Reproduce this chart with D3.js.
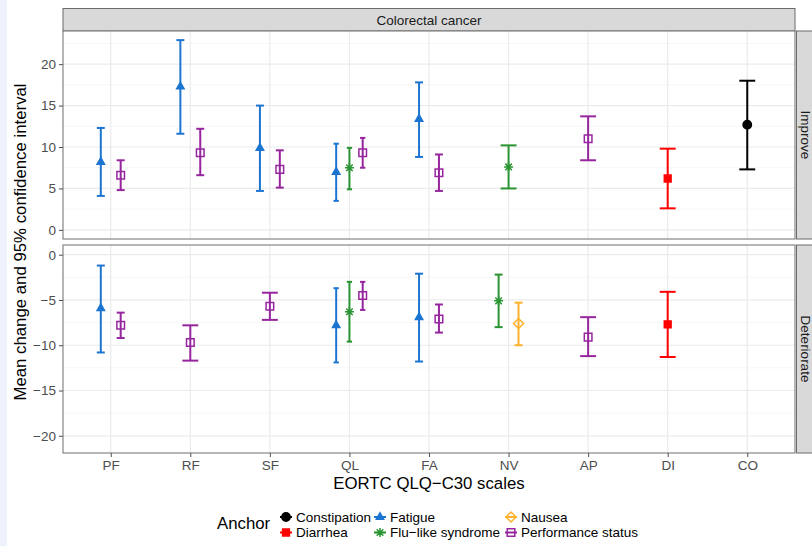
<!DOCTYPE html>
<html>
<head>
<meta charset="utf-8">
<script src="https://cdn.jsdelivr.net/npm/d3@7"></script>
<style>
  body { margin: 0; background: #fff; }
  text { font-family: "Liberation Sans", Arial, Helvetica, sans-serif; }
</style>
</head>
<body>
<svg id="chart"></svg>
<script>
// categories
const qlqScales = ['PF', 'RF', 'SF', 'QL', 'FA', 'NV', 'AP', 'DI', 'CO'];
const anchors = ['Constipation', 'Diarrhea', 'Fatigue', 'Flu\u2212like syndrome', 'Nausea', 'Performance status'];
const panels = ['Improve', 'Deteriorate'];

// Improve panel
const impScale  = ['PF', 'PF', 'RF', 'RF', 'SF', 'SF', 'QL', 'QL', 'QL', 'FA', 'FA', 'NV', 'AP', 'DI', 'CO'];
const impAnchor = [2, 5, 2, 5, 2, 5, 2, 3, 5, 2, 5, 3, 5, 1, 0];
const impMean   = [8.2, 6.6, 17.3, 9.3, 9.9, 7.3, 7.0, 7.5, 9.3, 13.4, 6.9, 7.6, 11.0, 6.2, 12.7];
const impLow    = [4.1, 4.8, 11.6, 6.6, 4.7, 5.1, 3.5, 4.9, 7.5, 8.8, 4.7, 5.0, 8.4, 2.6, 7.3];
const impHigh   = [12.3, 8.4, 22.9, 12.2, 15.0, 9.6, 10.4, 9.9, 11.1, 17.8, 9.1, 10.2, 13.7, 9.8, 18.0];

// Deteriorate panel
const detScale  = ['PF', 'PF', 'RF', 'SF', 'QL', 'QL', 'QL', 'FA', 'FA', 'NV', 'NV', 'AP', 'DI'];
const detAnchor = [2, 5, 5, 5, 2, 3, 5, 2, 5, 3, 4, 5, 1];
const detMean   = [-5.9, -7.8, -9.7, -5.7, -7.8, -6.3, -4.5, -6.9, -7.1, -5.1, -7.6, -9.1, -7.7];
const detLow    = [-10.8, -9.2, -11.7, -7.2, -11.9, -9.6, -6.1, -11.8, -8.6, -8.0, -10.0, -11.2, -11.3];
const detHigh   = [-1.2, -6.4, -7.8, -4.2, -3.7, -3.0, -3.0, -2.1, -5.5, -2.2, -5.3, -6.9, -4.1];

// tick labels
const impTicks = [0, 5, 10, 15, 20];
const detTicks = [-20, -15, -10, -5, 0];

class FacetErrorChart {

    constructor(_config) {
        this.config = {
            parentElement: _config.parentElement,
            containerWidth: 812,
            containerHeight: 546,
            left: 63,
            right: 795,
            panelTops: [31, 245],
            panelHeight: 208,
            colors: ['#000000', '#ff0000', '#1c75d0', '#2a9432', '#fdb22b', '#97259e'],
            shapes: ['circle', 'fsquare', 'triangle', 'asterisk', 'diamond', 'osquare']
        };
        this.initVis();
    }

    shapePath(shape) {
        switch (shape) {
            case 'circle': return d3.symbol(d3.symbolCircle, 55)();
            case 'fsquare': return 'M-3.4,-3.4H3.4V3.4H-3.4Z';
            case 'triangle': return 'M0,-4.2L3.7,2.3H-3.7Z';
            case 'diamond': return 'M0,-5L5,0L0,5L-5,0Z';
            case 'osquare': return 'M-3.8,-3.8H3.8V3.8H-3.8Z';
            case 'asterisk': return 'M-4.5,0H4.5M0,-4.5V4.5M-3.3,-3.3L3.3,3.3M-3.3,3.3L3.3,-3.3';
        }
    }

    shapeFill(i) {
        const s = this.config.shapes[i];
        return (s === 'diamond' || s === 'osquare' || s === 'asterisk') ? 'none' : this.config.colors[i];
    }

    initVis() {
        let vis = this;
        const c = vis.config;

        vis.svg = d3.select(c.parentElement)
            .attr('width', c.containerWidth)
            .attr('height', c.containerHeight)
            .style('display', 'block');

        vis.svg.append('rect')
            .attr('width', 7).attr('height', c.containerHeight)
            .attr('fill', '#edf2fb');

        vis.xScale = d3.scalePoint()
            .domain(qlqScales)
            .range([c.left, c.right])
            .padding(0.6);

        vis.yScales = [
            d3.scaleLinear().domain([-1.1, 24.0]).range([c.panelTops[0] + c.panelHeight, c.panelTops[0]]),
            d3.scaleLinear().domain([-21.9, 1.07]).range([c.panelTops[1] + c.panelHeight, c.panelTops[1]])
        ];

        // top strip
        vis.svg.append('rect')
            .attr('x', c.left).attr('y', 8.5)
            .attr('width', c.right - c.left).attr('height', c.panelTops[0] - 8.5)
            .attr('fill', '#d9d9d9').attr('stroke', '#6b6b6b').attr('stroke-width', 1);
        vis.svg.append('text')
            .attr('x', (c.left + c.right) / 2).attr('y', 20)
            .attr('text-anchor', 'middle').attr('dominant-baseline', 'central')
            .attr('font-size', 13.5).attr('fill', '#1a1a1a')
            .text('Colorectal cancer');

        vis.panelGroups = panels.map((p, k) => {
            const top = c.panelTops[k];
            const y = vis.yScales[k];
            const g = vis.svg.append('g').attr('class', 'panel');

            g.append('rect')
                .attr('x', c.left).attr('y', top)
                .attr('width', c.right - c.left).attr('height', c.panelHeight)
                .attr('fill', '#fff');

            // minor grid
            const [d0, d1] = y.domain();
            const minor = d3.range(Math.ceil(d0 / 2.5) * 2.5, d1, 2.5).filter(v => Math.abs(v % 5) > 0.01);
            g.selectAll('.minor').data(minor).join('line')
                .attr('x1', c.left).attr('x2', c.right)
                .attr('y1', d => y(d)).attr('y2', d => y(d))
                .attr('stroke', '#f3f3f3').attr('stroke-width', 0.7);

            // major grid
            const ticks = k === 0 ? impTicks : detTicks;
            g.selectAll('.hmajor').data(ticks).join('line')
                .attr('x1', c.left).attr('x2', c.right)
                .attr('y1', d => y(d)).attr('y2', d => y(d))
                .attr('stroke', '#ebebeb').attr('stroke-width', 1.2);
            g.selectAll('.vmajor').data(qlqScales).join('line')
                .attr('x1', d => vis.xScale(d)).attr('x2', d => vis.xScale(d))
                .attr('y1', top).attr('y2', top + c.panelHeight)
                .attr('stroke', '#ebebeb').attr('stroke-width', 1.2);

            // y axis
            const yAxis = d3.axisLeft(y)
                .tickValues(ticks)
                .tickSize(4)
                .tickPadding(3)
                .tickFormat(d3.format('d'));
            const yAxisG = vis.svg.append('g')
                .attr('class', 'axis y-axis')
                .attr('transform', `translate(${c.left},0)`)
                .call(yAxis);
            yAxisG.select('.domain').remove();
            yAxisG.selectAll('line').attr('stroke', '#4d4d4d');
            yAxisG.selectAll('text')
                .attr('font-size', 13.5).attr('fill', '#4d4d4d')
                .style('font-family', '"Liberation Sans", Arial, sans-serif');

            // right strip
            vis.svg.append('rect')
                .attr('x', c.right + 1.5).attr('y', top)
                .attr('width', 30).attr('height', c.panelHeight)
                .attr('fill', '#d9d9d9').attr('stroke', '#6b6b6b').attr('stroke-width', 1);
            vis.svg.append('text')
                .attr('transform', `translate(${c.right + 10},${top + c.panelHeight / 2}) rotate(90)`)
                .attr('text-anchor', 'middle').attr('dominant-baseline', 'central')
                .attr('font-size', 13.5).attr('fill', '#1a1a1a')
                .text(p);

            g.marks = g.append('g');
            g.border = g.append('rect')
                .attr('x', c.left).attr('y', top)
                .attr('width', c.right - c.left).attr('height', c.panelHeight)
                .attr('fill', 'none').attr('stroke', '#7a7a7a').attr('stroke-width', 1.1);
            return g;
        });

        // x axis
        vis.xAxis = d3.axisBottom(vis.xScale).tickSize(4).tickPadding(3);
        const xAxisG = vis.svg.append('g')
            .attr('class', 'axis x-axis')
            .attr('transform', `translate(0,${c.panelTops[1] + c.panelHeight})`)
            .call(vis.xAxis);
        xAxisG.select('.domain').remove();
        xAxisG.selectAll('line').attr('stroke', '#4d4d4d');
        xAxisG.selectAll('text')
            .attr('font-size', 13.5).attr('fill', '#4d4d4d')
            .style('font-family', '"Liberation Sans", Arial, sans-serif');

        // axis titles
        vis.svg.append('text')
            .attr('x', (c.left + c.right) / 2).attr('y', 489)
            .attr('text-anchor', 'middle').attr('font-size', 16.8)
            .text('EORTC QLQ\u2212C30 scales');

        vis.svg.append('text')
            .attr('transform', `translate(26,${(c.panelTops[0] + c.panelTops[1] + c.panelHeight) / 2}) rotate(-90)`)
            .attr('text-anchor', 'middle').attr('font-size', 16.8)
            .text('Mean change and 95% confidence interval');

        vis.legend = vis.svg.append('g').attr('class', 'legend');
    }

    updateVis() {
        let vis = this;
        const toRows = (sc, an, m, lo, hi) => sc.map((s, i) => ({ scale: s, anchor: an[i], mean: m[i], low: lo[i], high: hi[i] }));
        vis.data = [
            toRows(impScale, impAnchor, impMean, impLow, impHigh),
            toRows(detScale, detAnchor, detMean, detLow, detHigh)
        ];

        // position_dodge(width = 0.5), errorbar width 0.2
        const step = vis.xScale.step();
        vis.data.forEach(rows => {
            const groups = d3.group(rows, d => d.scale);
            groups.forEach(g => {
                g.sort((a, b) => a.anchor - b.anchor);
                const n = g.length;
                g.forEach((d, i) => {
                    d.x = vis.xScale(d.scale) + (i - (n - 1) / 2) * (0.5 * step / n);
                    d.cap = 0.2 * step / n / 2;
                });
            });
        });
        vis.renderVis();
    }

    renderVis() {
        let vis = this;
        const c = vis.config;

        vis.panelGroups.forEach((g, k) => {
            const y = vis.yScales[k];
            const bars = g.marks.selectAll('.bar').data(vis.data[k]).join('g').attr('class', 'bar');
            const col = d => c.colors[d.anchor];

            bars.append('line')
                .attr('x1', d => d.x).attr('x2', d => d.x)
                .attr('y1', d => y(d.low)).attr('y2', d => y(d.high))
                .attr('stroke', col).attr('stroke-width', 2);
            bars.append('line')
                .attr('x1', d => d.x - d.cap).attr('x2', d => d.x + d.cap)
                .attr('y1', d => y(d.low)).attr('y2', d => y(d.low))
                .attr('stroke', col).attr('stroke-width', 2);
            bars.append('line')
                .attr('x1', d => d.x - d.cap).attr('x2', d => d.x + d.cap)
                .attr('y1', d => y(d.high)).attr('y2', d => y(d.high))
                .attr('stroke', col).attr('stroke-width', 2);
            bars.append('path')
                .attr('transform', d => `translate(${d.x},${y(d.mean)})`)
                .attr('d', d => vis.shapePath(c.shapes[d.anchor]))
                .attr('fill', d => vis.shapeFill(d.anchor))
                .attr('stroke', col).attr('stroke-width', 1.5);
        });

        // legend
        vis.legend.append('text')
            .attr('x', 217).attr('y', 529)
            .attr('font-size', 16.8)
            .text('Anchor');

        const keyX = [286, 380, 511];
        const keyY = [517, 532.5];
        const items = vis.legend.selectAll('.item').data(anchors).join('g')
            .attr('class', 'item')
            .attr('transform', (d, i) => `translate(${keyX[Math.floor(i / 2)]},${keyY[i % 2]})`);
        items.append('line')
            .attr('x1', -6).attr('x2', 6)
            .attr('stroke', (d, i) => c.colors[i]).attr('stroke-width', 2);
        items.append('path')
            .attr('d', (d, i) => vis.shapePath(c.shapes[i]))
            .attr('fill', (d, i) => vis.shapeFill(i))
            .attr('stroke', (d, i) => c.colors[i]).attr('stroke-width', 1.5);
        items.append('text')
            .attr('x', 10).attr('dy', '0.35em')
            .attr('font-size', 13.5).attr('fill', '#000')
            .text(d => d);
    }
}

const chart = new FacetErrorChart({ parentElement: '#chart' });
chart.updateVis();
</script>
</body>
</html>
